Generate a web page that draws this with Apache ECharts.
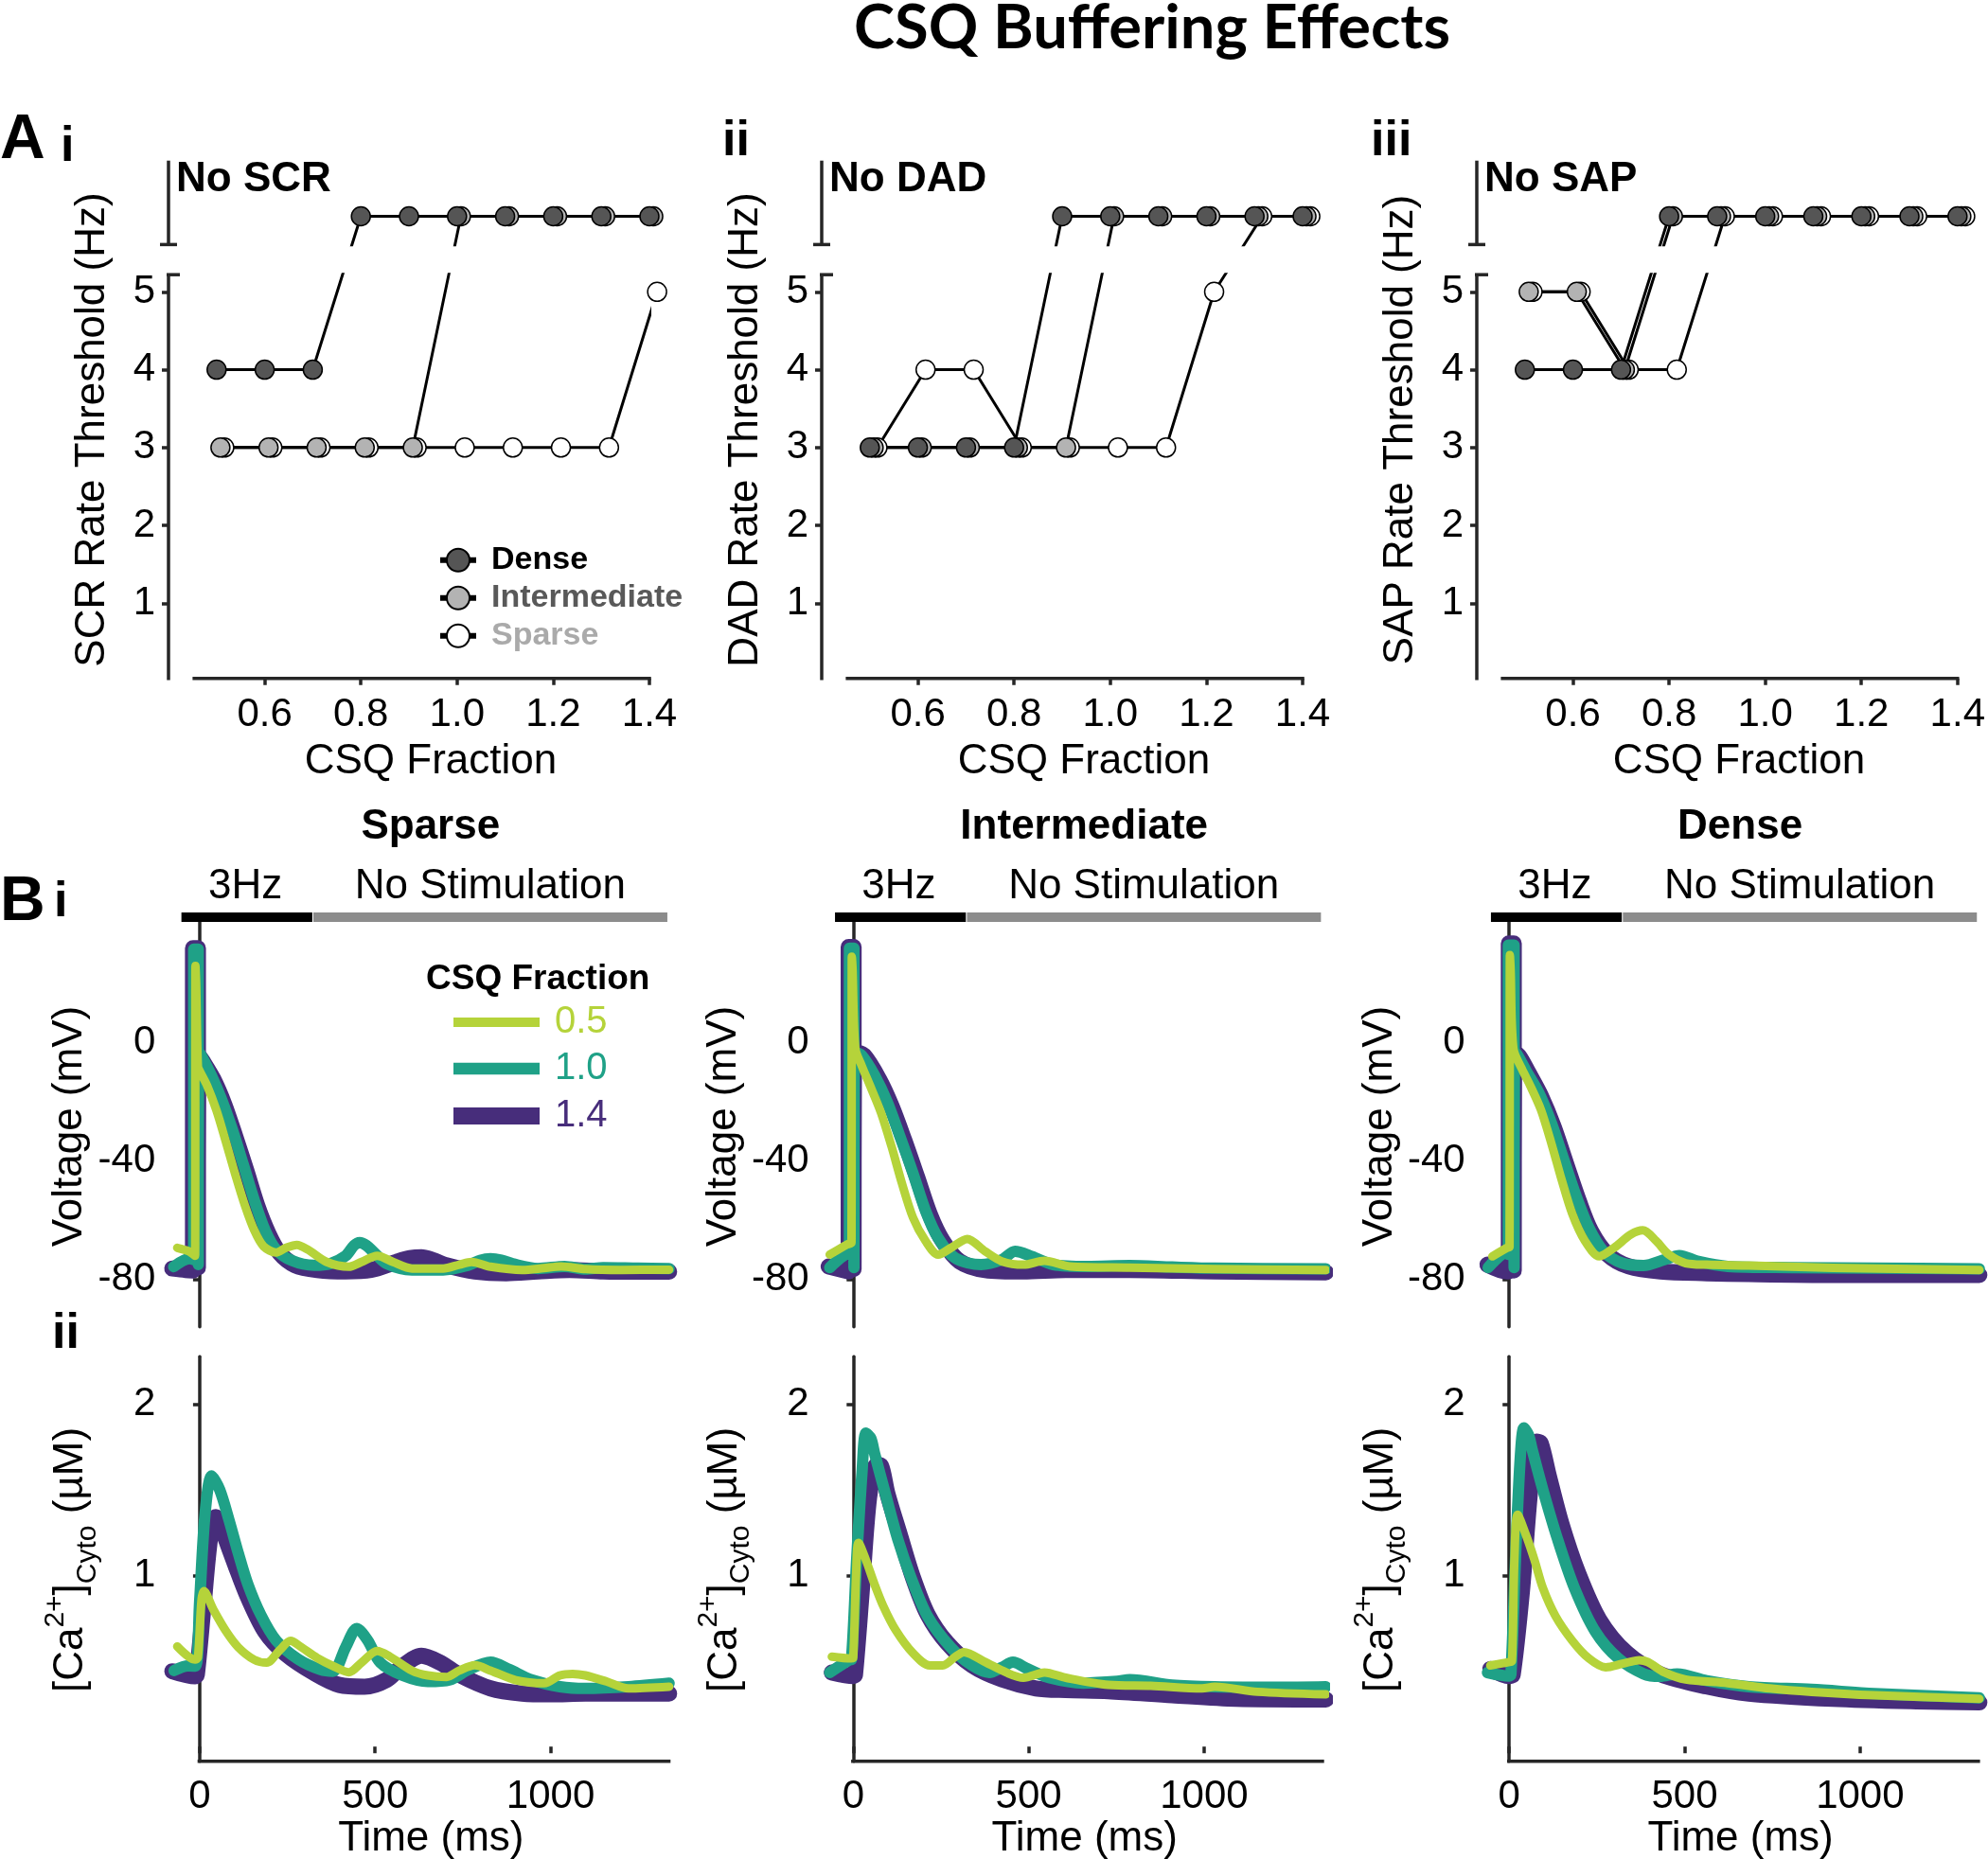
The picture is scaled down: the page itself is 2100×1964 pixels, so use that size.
<!DOCTYPE html>
<html>
<head>
<meta charset="utf-8">
<title>CSQ Buffering Effects</title>
<script src="https://cdn.jsdelivr.net/npm/echarts@6.0.0/dist/echarts.min.js"></script>
<style>
html,body{margin:0;padding:0;background:#ffffff;}
#chart{width:2100px;height:1964px;}
</style>
</head>
<body>
<div id="chart"></div>
<script>
// ======================= DATA =======================
// ---- Panel A: rate threshold (Hz) vs CSQ fraction; null = no event (top "No ..." row)
const csqFraction = [0.5, 0.6, 0.7, 0.8, 0.9, 1.0, 1.1, 1.2, 1.3, 1.4];
const scrDense        = [4, 4, 4, null, null, null, null, null, null, null];
const scrIntermediate = [3, 3, 3, 3, 3, null, null, null, null, null];
const scrSparse       = [3, 3, 3, 3, 3, 3, 3, 3, 3, 5];
const dadDense        = [3, 3, 3, 3, null, null, null, null, null, null];
const dadIntermediate = [3, 3, 3, 3, 3, null, null, null, null, null];
const dadSparse       = [3, 4, 4, 3, 3, 3, 3, 5, null, null];
const sapDense        = [4, 4, 4, null, null, null, null, null, null, null];
const sapIntermediate = [5, 5, 4, null, null, null, null, null, null, null];
const sapSparse       = [5, 5, 4, 4, null, null, null, null, null, null];
const panelAEvents = ['No SCR', 'No DAD', 'No SAP'];
const panelAYNames = ['SCR Rate Threshold (Hz)', 'DAD Rate Threshold (Hz)', 'SAP Rate Threshold (Hz)'];
const panelALetters = ['i', 'ii', 'iii'];
const csqTickValues = [0.6, 0.8, 1.0, 1.2, 1.4];
const rateTickValues = [1, 2, 3, 4, 5];

// ---- Panel B: time (ms) traces, [t, value]
const panelBTitles = ['Sparse', 'Intermediate', 'Dense'];
const timeTickValues = [0, 500, 1000];
const voltageTickValues = [-80, -40, 0];
const calciumTickValues = [1, 2];
const stimPaced = [-52, 321];     // "3Hz" bar (ms)
const stimNone  = [324, 1333];    // "No Stimulation" bar (ms)
const csqLegend = ['0.5', '1.0', '1.4'];

// Sparse – voltage (mV)
const sparseV14 = [[-78,-76.3],[-40,-76.8],[-19,-77],[-19,32],[-5,32],[-5,-76],[-4,-4],[7,-5.9],[39,-12.3],[70,-20.8],[101,-31.5],[133,-43.2],[164,-55],[196,-64.5],[227,-71],[272,-75.2],[335,-76.8],[416,-77.3],[488,-76.8],[560,-74.1],[600,-72.8],[632,-72.5],[665,-73.5],[703,-75.2],[784,-77.3],[874,-77.9],[964,-77.3],[1054,-76.8],[1150,-77.3],[1250,-77.4],[1338,-77.4]];
const sparseV10 = [[-74,-75.7],[-29,-73],[-17,-73.3],[-17,31.7],[-4,31.7],[-4,-75],[-3,-3],[7,-4.8],[34,-11.2],[61,-18.7],[93,-29.3],[124,-41],[156,-53.3],[187,-63.5],[218,-69.9],[263,-73.6],[326,-75.2],[371,-74.7],[416,-72],[440,-68.5],[456,-67.5],[475,-68.5],[497,-70.9],[533,-74.7],[605,-76.8],[694,-76.8],[766,-75.2],[800,-73.5],[829,-73],[860,-73.5],[892,-74.7],[964,-76.3],[1040,-75.6],[1100,-76.5],[1150,-76],[1250,-76.2],[1338,-76.3]];
const sparseV05 = [[-64,-69.3],[-33,-70.4],[-13,-72],[-12,26],[-10,20],[-5,-8],[0,-9.5],[21,-14.4],[48,-22.9],[75,-33.6],[101,-44.3],[129,-55],[156,-63.5],[182,-68.8],[218,-70.9],[246,-69.3],[277,-68.3],[308,-69.9],[362,-74.1],[425,-75.7],[461,-74.1],[506,-72],[551,-74.1],[605,-76.3],[694,-76.3],[740,-75],[775,-74.1],[829,-75.7],[919,-76.8],[980,-76.2],[1030,-75.6],[1100,-76.5],[1200,-76.8],[1338,-76.7]];
// Sparse – cytosolic Ca (µM)
const sparseCa14 = [[-78,0.44],[-13,0.41],[-8,0.42],[10,0.80],[30,1.22],[46,1.34],[60,1.30],[73,1.22],[100,1.07],[136,0.88],[187,0.67],[246,0.54],[326,0.43],[398,0.36],[470,0.35],[533,0.39],[578,0.47],[632,0.53],[686,0.49],[739,0.42],[829,0.34],[919,0.31],[1000,0.305],[1100,0.31],[1200,0.31],[1338,0.31]];
const sparseCa10 = [[-73,0.444],[-33,0.471],[-12,0.47],[0,0.85],[15,1.35],[34,1.58],[57,1.50],[84,1.32],[110,1.13],[137,0.95],[174,0.77],[218,0.62],[281,0.51],[344,0.45],[380,0.44],[416,0.58],[448,0.69],[479,0.62],[515,0.49],[578,0.416],[650,0.38],[713,0.39],[767,0.45],[829,0.493],[883,0.45],[946,0.39],[1027,0.35],[1099,0.34],[1222,0.35],[1338,0.37]];
const sparseCa05 = [[-64,0.585],[-13,0.508],[-5,0.52],[5,0.85],[12,0.907],[39,0.80],[75,0.674],[110,0.58],[155,0.508],[191,0.49],[228,0.563],[259,0.618],[290,0.58],[335,0.518],[380,0.471],[425,0.434],[461,0.49],[506,0.558],[542,0.526],[605,0.444],[650,0.416],[704,0.407],[740,0.444],[784,0.475],[829,0.444],[901,0.388],[982,0.37],[1027,0.416],[1063,0.425],[1099,0.416],[1160,0.38],[1222,0.34],[1338,0.35]];

// Intermediate – voltage (mV)
const interV14 = [[-70,-75.6],[-13,-77.3],[-13,32.4],[1,32.4],[1,-76.5],[2,-3],[30,-4.2],[73,-12.2],[109,-21.4],[145,-32.8],[182,-45.4],[218,-57.9],[255,-67],[303,-73.9],[376,-76.8],[485,-77.3],[606,-76.8],[788,-76.8],[1030,-77.3],[1347,-77.6]];
const interV10 = [[-67,-76],[-12,-71.3],[-11,-71.5],[-11,32],[2,32],[2,-76],[3,-3],[24,-4.2],[61,-11],[97,-20],[133,-31.6],[170,-44],[206,-56.8],[242,-66],[291,-72.8],[364,-75],[424,-73.3],[461,-70.5],[509,-72.2],[570,-75],[667,-75.6],[788,-75.3],[909,-75.8],[1030,-76.2],[1347,-76.4]];
const interV05 = [[-67,-71.6],[-18,-68.2],[-5,-67.5],[-4,29.1],[-2,25],[6,-1.9],[24,-7.7],[48,-14.5],[79,-23.6],[109,-35],[139,-47.6],[170,-59],[206,-67],[242,-71.6],[279,-69.3],[325,-66.3],[376,-70.5],[424,-73.9],[485,-75],[545,-73.7],[618,-75.6],[788,-76],[1030,-76.5],[1347,-76.8]];
// Intermediate – cytosolic Ca (µM)
const interCa14 = [[-61,0.433],[0,0.412],[5,0.42],[24,0.9],[45,1.45],[67,1.645],[79,1.64],[97,1.48],[133,1.235],[170,0.988],[212,0.772],[267,0.607],[339,0.474],[424,0.392],[521,0.34],[606,0.33],[727,0.324],[909,0.30],[1091,0.279],[1347,0.275]];
const interCa10 = [[-67,0.433],[-12,0.505],[-5,0.51],[10,1.1],[25,1.6],[36,1.83],[50,1.80],[61,1.71],[91,1.48],[127,1.21],[164,0.99],[212,0.76],[279,0.577],[339,0.474],[388,0.433],[424,0.463],[455,0.493],[497,0.454],[558,0.402],[655,0.371],[752,0.381],[788,0.391],[909,0.36],[1030,0.35],[1212,0.347],[1347,0.35]];
const interCa05 = [[-61,0.525],[-6,0.515],[0,0.52],[8,1.0],[15,1.19],[36,1.09],[61,0.946],[85,0.823],[121,0.68],[170,0.546],[218,0.474],[255,0.474],[291,0.525],[315,0.552],[376,0.494],[436,0.433],[485,0.402],[545,0.433],[606,0.402],[727,0.361],[848,0.355],[994,0.34],[1030,0.35],[1152,0.32],[1347,0.305]];

// Dense – voltage (mV)
const denseV14 = [[-62,-75],[-6,-77.3],[-1,-77.3],[-1,33.6],[13,33.6],[13,-77],[14,-3],[30,-4.8],[54,-9.9],[90,-17.9],[126,-28.2],[162,-40.8],[198,-53.3],[233,-63.6],[281,-71.6],[341,-75.6],[431,-77.3],[563,-77.9],[683,-78.2],[922,-78.5],[1340,-78.5]];
const denseV10 = [[-60,-76],[-8,-71],[-2.5,-71.5],[-2.5,33],[14,33],[14,-76],[15,-3],[24,-4.2],[48,-9.4],[84,-16.8],[120,-27],[156,-39.6],[192,-52.2],[227,-62.5],[269,-70.5],[323,-74.5],[383,-75.3],[443,-73.3],[485,-71.9],[539,-73.9],[623,-75.6],[802,-76],[1042,-76.2],[1340,-76.4]];
const denseV05 = [[-48,-72.2],[-6,-69.3],[1,-69],[2,29.7],[4,25],[12,-1.9],[36,-8.8],[60,-14.5],[90,-22.5],[120,-33.9],[150,-46.5],[180,-57.9],[216,-67],[257,-72.2],[299,-69.3],[347,-64.8],[381,-63.4],[419,-67],[455,-71.6],[503,-74.5],[563,-75],[683,-75.3],[922,-76.1],[1340,-76.8]];
// Dense – cytosolic Ca (µM)
const denseCa14 = [[-54,0.453],[0,0.412],[10,0.42],[36,0.9],[60,1.5],[78,1.78],[90,1.77],[113,1.58],[149,1.30],[197,1.01],[257,0.74],[335,0.546],[431,0.423],[563,0.351],[683,0.31],[922,0.279],[1161,0.264],[1340,0.258]];
const denseCa10 = [[-62,0.432],[0,0.412],[5,0.42],[20,1.2],[32,1.7],[42,1.86],[55,1.82],[66,1.73],[96,1.50],[138,1.21],[186,0.926],[246,0.67],[311,0.515],[383,0.425],[430,0.41],[479,0.425],[563,0.385],[683,0.35],[862,0.334],[1042,0.31],[1340,0.285]];
const denseCa05 = [[-54,0.474],[0,0.494],[8,0.5],[15,1.1],[24,1.354],[48,1.234],[72,1.09],[96,0.926],[132,0.762],[180,0.618],[227,0.515],[275,0.463],[323,0.484],[371,0.505],[395,0.494],[443,0.433],[503,0.392],[623,0.371],[743,0.34],[862,0.32],[1042,0.30],[1340,0.279]];

// ======================= LAYOUT / STYLE =======================
const FONT = '"Liberation Sans", Arial, Helvetica, sans-serif';
const AXC = '#262626';
const AXW = 3.5;
const NO_EVENT_ROW = 5.97;          // axis position of the "No ..." row
const A_YMIN = 0.035, A_YMAX = 6.685, A_BREAK_LO = 5.22, A_BREAK_HI = 5.607;
const aLeft = [178, 868, 1560];
const bLeft = [178.3, 868.7, 1561.6];
const T_MIN = -88, T_MAX = 1342;
const V_MIN = -96, V_MAX = 41.1;
const CA_MIN = -0.085, CA_MAX = 2.276;

const groupStyle = {
  Sparse:       {fill: '#ffffff', dx: 0.016, text: '#aaaaaa'},
  Intermediate: {fill: '#b3b3b3', dx: 0.008, text: '#595959'},
  Dense:        {fill: '#555555', dx: 0.0,   text: '#000000'}
};
const traceStyle = {
  '1.4': {color: '#472d7b', width: 17, legendH: 18, legendY: 1179},
  '1.0': {color: '#1fa187', width: 12, legendH: 12.5, legendY: 1129},
  '0.5': {color: '#b5d33a', width: 9,  legendH: 10, legendY: 1080}
};

const chart = echarts.init(document.getElementById('chart'), null, {renderer: 'canvas'});

const grids = [], xAxes = [], yAxes = [], series = [];

function tickCfg(vals) {
  return {show: true, customValues: vals, length: 7, inside: false, lineStyle: {color: AXC, width: AXW}};
}
function labelCfg(vals, margin, fmt) {
  return {show: true, customValues: vals, fontSize: 42, color: '#000', fontFamily: FONT, margin: margin,
    formatter: fmt || (v => String(v))};
}

// ---- Panel A grids
const panelAData = [
  {Dense: scrDense, Intermediate: scrIntermediate, Sparse: scrSparse},
  {Dense: dadDense, Intermediate: dadIntermediate, Sparse: dadSparse},
  {Dense: sapDense, Intermediate: sapIntermediate, Sparse: sapSparse}
];
aLeft.forEach((l, i) => {
  grids.push({left: l, top: 169.7, width: 508, height: 547});
  xAxes.push({type: 'value', gridIndex: i, min: 0.4, max: 1.4,
    axisLine: {show: false}, splitLine: {show: false},
    axisTick: tickCfg(csqTickValues),
    axisLabel: labelCfg(csqTickValues, 18, v => v.toFixed(1))});
  yAxes.push({type: 'value', gridIndex: i, min: A_YMIN, max: A_YMAX,
    axisLine: {show: false}, splitLine: {show: false},
    axisTick: tickCfg(rateTickValues),
    axisLabel: labelCfg(rateTickValues, 14)});
  ['Sparse', 'Intermediate', 'Dense'].forEach(g => {
    const vals = panelAData[i][g];
    series.push({
      type: 'line', name: g, xAxisIndex: i, yAxisIndex: i, clip: false,
      data: csqFraction.map((x, k) => [x + groupStyle[g].dx, vals[k] == null ? NO_EVENT_ROW : vals[k]]),
      symbol: 'circle', symbolSize: 20, showSymbol: true,
      lineStyle: {color: '#000', width: 3},
      itemStyle: {color: groupStyle[g].fill, borderColor: '#000', borderWidth: 1.5},
      emphasis: {disabled: true}, z: 3
    });
  });
});

// ---- Panel B grids: voltage (3..5), calcium (6..8)
const voltageTraces = [[sparseV14, sparseV10, sparseV05], [interV14, interV10, interV05], [denseV14, denseV10, denseV05]];
const calciumTraces = [[sparseCa14, sparseCa10, sparseCa05], [interCa14, interCa10, interCa05], [denseCa14, denseCa10, denseCa05]];
const traceNames = ['1.4', '1.0', '0.5'];

function traceSeries(n, gi, data) {
  return {type: 'line', name: n, xAxisIndex: gi, yAxisIndex: gi, data: data,
    showSymbol: false, symbol: 'none', smooth: 0.3,
    lineStyle: {color: traceStyle[n].color, width: traceStyle[n].width, cap: 'round', join: 'round'},
    itemStyle: {color: traceStyle[n].color}, emphasis: {disabled: true}, z: 2};
}
bLeft.forEach((l, i) => {
  const gi = 3 + i;
  grids.push({left: l, top: 973.3, width: 530, height: 428.4});
  xAxes.push({type: 'value', gridIndex: gi, min: T_MIN, max: T_MAX, show: false});
  yAxes.push({type: 'value', gridIndex: gi, min: V_MIN, max: V_MAX,
    axisLine: {show: true, lineStyle: {color: AXC, width: AXW}}, splitLine: {show: false},
    axisTick: tickCfg(voltageTickValues), axisLabel: labelCfg(voltageTickValues, 14)});
  traceNames.forEach((n, k) => series.push(traceSeries(n, gi, voltageTraces[i][k])));
});
bLeft.forEach((l, i) => {
  const gi = 6 + i;
  grids.push({left: l, top: 1433.3, width: 530, height: 427.4});
  xAxes.push({type: 'value', gridIndex: gi, min: T_MIN, max: T_MAX,
    axisLine: {show: false}, splitLine: {show: false},
    axisTick: tickCfg(timeTickValues), axisLabel: labelCfg(timeTickValues, 17)});
  yAxes.push({type: 'value', gridIndex: gi, min: CA_MIN, max: CA_MAX,
    axisLine: {show: true, lineStyle: {color: AXC, width: AXW}}, splitLine: {show: false},
    axisTick: tickCfg(calciumTickValues), axisLabel: labelCfg(calciumTickValues, 14)});
  traceNames.forEach((n, k) => series.push(traceSeries(n, gi, calciumTraces[i][k])));
});

const legends = [
  {
    orient: 'vertical', left: 462, top: 574.7, padding: 0, itemGap: 6,
    itemWidth: 38, itemHeight: 30, selectedMode: false,
    textStyle: {fontSize: 34, fontWeight: 'bold', fontFamily: FONT, padding: [0, 0, 0, 11]},
    data: ['Dense', 'Intermediate', 'Sparse'].map(n => ({
      name: n, textStyle: {color: groupStyle[n].text},
      lineStyle: {width: 6, color: '#000'}
    }))
  }
];
csqLegend.forEach(n => {
  legends.push({
    orient: 'vertical', left: 479, top: traceStyle[n].legendY - 20, padding: 0,
    itemWidth: 91, itemHeight: traceStyle[n].legendH, selectedMode: false, icon: 'rect',
    textStyle: {fontSize: 40, fontFamily: FONT, padding: [0, 0, 0, 11]},
    data: [{name: n, textStyle: {color: traceStyle[n].color}}]
  });
});

chart.setOption({
  animation: false,
  backgroundColor: '#ffffff',
  grid: grids, xAxis: xAxes, yAxis: yAxes, series: series, legend: legends
});

// ======================= ANNOTATIONS (axis breaks, labels) =======================
function text(x, y, str, size, opts) {
  opts = opts || {};
  return {
    type: 'text', x: x, y: y, z: 30, rotation: opts.rot || 0, silent: true,
    style: {
      text: str, fontSize: size, fontFamily: opts.family || FONT, fontWeight: opts.bold ? 'bold' : 'normal',
      fill: opts.fill || '#000',
      align: opts.align || 'center', verticalAlign: 'middle',
      textAlign: opts.align || 'center', textVerticalAlign: 'middle',
      rich: opts.rich
    }
  };
}
function line(x1, y1, x2, y2, w, color, z) {
  return {type: 'line', z: z || 25, silent: true,
    shape: {x1: x1, y1: y1, x2: x2, y2: y2},
    style: {stroke: color || AXC, lineWidth: w || AXW, lineCap: 'butt'}};
}
function rect(x, y, w, h, color, z) {
  return {type: 'rect', z: z || 20, silent: true, shape: {x: x, y: y, width: w, height: h}, style: {fill: color}};
}

const G = [];
G.push(text(1217, 30, 'CSQ Buffering Effects', 65, {bold: true, family: 'Lato, "Open Sans", ' + FONT}));

// Panel A
G.push(text(0, 149, 'A', 66, {bold: true, align: 'left'}));
const aLetterPos = [[64, 156], [763, 150], [1448, 150]];
for (let p = 0; p < 3; p++) {
  const P = (x, y) => chart.convertToPixel({gridIndex: p}, [x, y]);
  const ax = P(0.4, 0)[0];
  const yBot = P(0.4, A_YMIN)[1];
  const yLo = P(0.4, A_BREAK_LO)[1];
  const yHi = P(0.4, A_BREAK_HI)[1];
  const yTop = P(0.4, A_YMAX)[1];
  const xEnd = P(1.4, 0)[0];
  // white band hiding the connecting lines inside the axis break
  G.push(rect(ax + 3, yHi + 2, xEnd - ax + 30, yLo - yHi - 4, '#ffffff', 20));
  // broken y axis
  G.push(line(ax, yLo, ax, yBot + AXW / 2));
  G.push(line(ax, yTop, ax, yHi));
  G.push(line(ax - 2, yLo, ax + 12, yLo));
  G.push(line(ax - 9, yHi, ax + 9, yHi));
  // detached x axis
  G.push(line(P(0.45, 0)[0], yBot, P(1.4, 0)[0] + AXW / 2, yBot));
  // texts
  G.push(text(aLetterPos[p][0], aLetterPos[p][1], panelALetters[p], 52, {bold: true, align: 'left'}));
  G.push(text(ax + 8, 190, panelAEvents[p], 44, {bold: true, align: 'left'}));
  G.push(text(ax - 80, 454, panelAYNames[p], 44, {rot: Math.PI / 2}));
  G.push(text(ax + 277, 805, 'CSQ Fraction', 44));
}

// Panel B
G.push(text(0, 954, 'B', 66, {bold: true, align: 'left'}));
G.push(text(57, 954, 'i', 52, {bold: true, align: 'left'}));
G.push(text(55, 1410, 'ii', 52, {bold: true, align: 'left'}));
G.push(text(450, 1035, 'CSQ Fraction', 37, {bold: true, align: 'left'}));
const caRich = {
  a: {fontSize: 44, fontFamily: FONT, lineHeight: 64, verticalAlign: 'middle'},
  b: {fontSize: 30, fontFamily: FONT, lineHeight: 30, verticalAlign: 'top'},
  c: {fontSize: 30, fontFamily: FONT, lineHeight: 30, verticalAlign: 'bottom'}
};
for (let p = 0; p < 3; p++) {
  const PV = (x, y) => chart.convertToPixel({gridIndex: 3 + p}, [x, y]);
  const PC = (x, y) => chart.convertToPixel({gridIndex: 6 + p}, [x, y]);
  const ax = PC(T_MIN, 0)[0];
  const yB = PC(0, CA_MIN)[1];
  G.push(line(PC(-6, 0)[0], yB, PC(T_MAX, 0)[0], yB));
  // stimulation bars
  const b0 = PV(stimPaced[0], 0)[0], b1 = PV(stimPaced[1], 0)[0];
  const g0 = PV(stimNone[0], 0)[0], g1 = PV(stimNone[1], 0)[0];
  G.push(rect(b0, 964, b1 - b0, 10, '#000000', 20));
  G.push(rect(g0, 964, g1 - g0, 10, '#8c8c8c', 20));
  G.push(text(PV(130, 0)[0], 936.5, '3Hz', 44));
  G.push(text(PV(828, 0)[0], 936.5, 'No Stimulation', 44));
  G.push(text(PV(658, 0)[0], 874, panelBTitles[p], 44, {bold: true}));
  G.push(text(ax - 104, 1190, 'Voltage (mV)', 44, {rot: Math.PI / 2}));
  G.push(text(ax - 103, 1648, '{a|[Ca}{b|2+}{a|]}{c|Cyto}{a| (µM)}', 44, {rot: Math.PI / 2, rich: caRich}));
  G.push(text(ax + 277, 1943, 'Time (ms)', 44));
}

chart.setOption({graphic: {elements: G}});
</script>
</body>
</html>
